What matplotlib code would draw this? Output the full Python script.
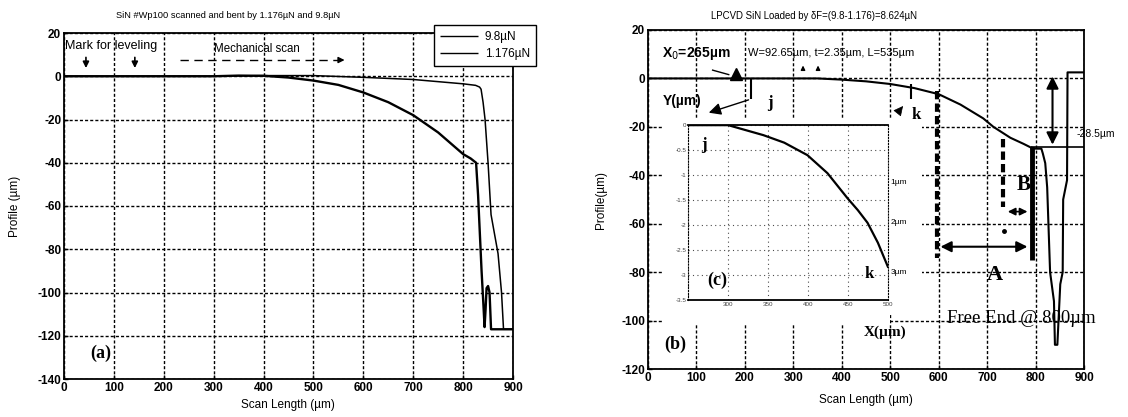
import matplotlib.pyplot as plt
from matplotlib.patches import Rectangle

plt.rcParams['font.family'] = ['Liberation Sans', 'DejaVu Sans']
plt.rcParams['axes.unicode_minus'] = False
plt.rcParams['lines.solid_capstyle'] = 'butt'

# (a) profiles
a_98_x = [0, 100, 200, 300, 350, 400, 450, 500, 550, 600, 650, 700, 750, 780, 800, 815, 826,
          830, 834, 837, 841, 843, 845, 847, 850, 853, 856, 900]
a_98_y = [0, 0, 0, 0, 0.3, 0.2, -0.6, -2, -4, -7.5, -12, -18, -26, -32, -36, -38, -40,
          -55, -75, -90, -107, -116, -108, -98, -97, -100, -117, -117]
a_1176_x = [0, 300, 400, 500, 600, 700, 750, 800, 825, 833, 836, 840, 844, 850, 856, 870, 877, 881, 900]
a_1176_y = [0, 0, 0.3, 0.3, -0.5, -1.5, -2.5, -3.5, -4.2, -5, -6, -12, -20, -40, -64, -82, -100, -117, -117]
a_legend = ['9.8µN', '1.176µN']

# (b) profile under the load difference
b_x = [0, 100, 200, 300, 350, 400, 450, 500, 550, 600, 645, 692, 713, 748, 775, 790, 800,
       812, 815, 820, 824, 830, 838, 840, 845, 851, 856, 857, 865, 866, 900]
b_y = [0, 0, 0, 0, 0, -0.5, -1.2, -2.3, -4, -6.5, -10.8, -16.5, -20, -24.5, -27, -28.5, -29,
       -29, -31, -35, -45, -80, -92, -110, -110, -85, -80, -50, -42, 2.5, 2.5]
b_free_end = 792
b_deflection = -28.5

# (c) inset, j-k section
c_x = [250, 300, 344, 370, 399, 424, 449, 462, 474, 487, 500]
c_y = [0, 0, -0.2, -0.35, -0.6, -0.96, -1.46, -1.7, -1.95, -2.35, -2.85]
c_xticks = [250, 300, 350, 400, 450, 500]
c_yticks = [0, -0.5, -1, -1.5, -2, -2.5, -3, -3.5]

W, H = 1128, 417
fig = plt.figure(figsize=(W / 100, H / 100), dpi=100)


def box(l, t, r, b):
    return [l / W, 1 - b / H, (r - l) / W, (b - t) / H]


def style(ax, ylo, yhi):
    ax.set_xlim(0, 900)
    ax.set_xticks(range(0, 901, 100))
    ax.set_ylim(ylo, yhi)
    ax.set_yticks(range(ylo, yhi + 1, 20))
    ax.grid(True, color='k', linestyle=(0, (2.2, 1.5)), linewidth=1.0)
    ax.set_axisbelow(True)
    ax.tick_params(direction='in', length=3, width=1, labelsize=8.5, pad=2)
    for t in ax.get_xticklabels() + ax.get_yticklabels():
        t.set_fontweight('bold')
    for s in ax.spines.values():
        s.set_linewidth(1.3)


serif = ['Liberation Serif', 'DejaVu Serif']

# ---------------- panel (a)
ax1 = fig.add_axes(box(64, 33, 513, 379))
style(ax1, -140, 20)
l1, = ax1.plot(a_98_x, a_98_y, color='k', lw=1.7, zorder=2)
l2, = ax1.plot(a_1176_x, a_1176_y, color='k', lw=1.1, zorder=2)
leg = ax1.legend([l1, l2], a_legend, loc='upper right', bbox_to_anchor=(536 / W, 1 - 25 / H),
                 bbox_transform=fig.transFigure, fancybox=False, edgecolor='k', framealpha=1,
                 fontsize=8.5, handlelength=3.2, borderpad=0.5, labelspacing=0.45,
                 handletextpad=0.6, borderaxespad=0)
leg.get_frame().set_linewidth(1)
for ln in leg.get_lines():
    ln.set_linewidth(1)

ax1.text(2, 14, 'Mark for leveling', fontsize=9, ha='left', va='center')
for xm in (44, 142):
    ax1.annotate('', xy=(xm, 2.5), xytext=(xm, 10),
                 arrowprops=dict(arrowstyle='-|>', color='k', lw=1.2, mutation_scale=9))
ax1.text(300, 12.5, 'Mechanical scan', fontsize=8.3, ha='left', va='center')
ax1.plot([233, 550], [7.5, 7.5], color='k', lw=1, linestyle=(0, (6, 4)))
ax1.annotate('', xy=(568, 7.5), xytext=(545, 7.5),
             arrowprops=dict(arrowstyle='-|>', color='k', lw=1, mutation_scale=9))
ax1.text(73, -128, '(a)', fontsize=13, fontweight='bold', family=serif, ha='center', va='center')

fig.text(228 / W, 1 - 16 / H, 'SiN #Wp100 scanned and bent by 1.176µN and 9.8µN',
         fontsize=6.7, ha='center', va='center')
fig.text(288 / W, 1 - 405 / H, 'Scan Length (µm)', fontsize=8.5, ha='center', va='center')
fig.text(15 / W, 1 - 206 / H, 'Profile (µm)', fontsize=8.5, ha='center', va='center', rotation=90)

# ---------------- panel (b)
ax2 = fig.add_axes(box(648, 30, 1084, 369))
style(ax2, -120, 20)
ax2.add_patch(Rectangle((30, -97), 535, 80.5, facecolor='white', edgecolor='none', zorder=1))
ax2.add_patch(Rectangle((30, -101.5), 470, 5, facecolor='white', edgecolor='none', zorder=1))
ax2.plot(b_x, b_y, color='k', lw=1.5, zorder=2)
ax2.plot([b_free_end - 2, 900], [b_deflection, b_deflection], color='k', lw=1.2, zorder=2)
ax2.plot([b_free_end, b_free_end], [b_deflection, -75], color='k', lw=3.5, zorder=2)
ax2.plot([597, 597], [-5, -74], color='k', lw=3, linestyle=(0, (2, 1)), zorder=2)
ax2.plot([732, 732], [-25, -53], color='k', lw=3, linestyle=(0, (2, 1)), zorder=2)
ax2.plot([735], [-63], marker='o', ms=2.5, color='k')
ax2.plot([543, 543], [-2.5, -8.5], color='k', lw=1.5)
ax2.plot([213, 213], [0, -8.5], color='k', lw=1.5)

ax2.annotate('', xy=(835, 2), xytext=(835, b_deflection),
             arrowprops=dict(arrowstyle='<|-|>', color='k', lw=1.5, mutation_scale=18))
ax2.annotate('', xy=(598, -69.5), xytext=(789, -69.5),
             arrowprops=dict(arrowstyle='<|-|>', color='k', lw=1.5, mutation_scale=16))
ax2.annotate('', xy=(737, -55), xytext=(789, -55),
             arrowprops=dict(arrowstyle='<|-|>', color='k', lw=1.2, mutation_scale=11))
ax2.text(716, -81, 'A', fontsize=16, fontweight='bold', family=serif, ha='center', va='center')
ax2.text(775, -44, 'B', fontsize=15, fontweight='bold', family=serif, ha='center', va='center')
ax2.text(885, -23, '-28.5µm', fontsize=7.5, ha='left', va='center')
ax2.text(618, -99, 'Free End @ 800µm', fontsize=13.5, family=serif, ha='left', va='center')
ax2.text(490, -105, 'X(µm)', fontsize=11, fontweight='bold', family=serif, ha='center', va='center')
ax2.text(56, -110, '(b)', fontsize=13, fontweight='bold', family=serif, ha='center', va='center')

ax2.text(100, 10.5, 'X$_0$=265µm', fontsize=10, fontweight='bold', ha='center', va='center')
ax2.plot([132, 168], [3.5, 1.5], color='k', lw=1)
ax2.plot([182], [1.8], marker='^', ms=9, color='k')
ax2.text(207, 10.5, 'W=92.65µm, t=2.35µm, L=535µm', fontsize=8, ha='left', va='center')
for xm in (320, 351):
    ax2.annotate('', xy=(xm, 6.5), xytext=(xm, 2.5),
                 arrowprops=dict(arrowstyle='-|>', color='k', lw=1, mutation_scale=6))
ax2.text(70, -9.5, 'Y(µm)', fontsize=10, fontweight='bold', ha='center', va='center')
ax2.annotate('', xy=(120, -14.5), xytext=(213, -8.5),
             arrowprops=dict(arrowstyle='-|>', color='k', lw=1, mutation_scale=18))
ax2.text(252, -10, 'j', fontsize=12, fontweight='bold', family=serif, ha='center', va='center')
ax2.text(545, -15, 'k', fontsize=12, fontweight='bold', family=serif, ha='left', va='center')
ax2.annotate('', xy=(530, -10.5), xytext=(512, -15),
             arrowprops=dict(arrowstyle='-|>', color='k', lw=0.5, mutation_scale=15))

fig.text(814 / W, 1 - 16 / H, 'LPCVD SiN Loaded by δF=(9.8-1.176)=8.624µN',
         fontsize=6.9, ha='center', va='center')
fig.text(866 / W, 1 - 400 / H, 'Scan Length (µm)', fontsize=8.5, ha='center', va='center')
fig.text(601 / W, 1 - 200 / H, 'Profile(µm)', fontsize=8.5, ha='center', va='center', rotation=90)

# ---------------- inset (c)
ins = ax2.inset_axes([83, -91.6, 413, 72.3], transform=ax2.transData)
ins.set_facecolor('white')
ins.plot(c_x, c_y, color='k', lw=1.6)
ins.set_xlim(250, 500)
ins.set_ylim(-3.5, 0)
ins.set_xticks(c_xticks)
ins.set_xticklabels([''] + [str(v) for v in c_xticks[1:]])
ins.set_yticks(c_yticks)
ins.set_yticklabels([f'{v:g}' for v in c_yticks])
ins.tick_params(labelsize=4.5, length=0, pad=1.5, colors='0.25')
ins.grid(True, color='0.3', linestyle=(0, (1, 3)), linewidth=0.8)
for side in ('top', 'bottom'):
    ins.spines[side].set_linewidth(1.3)
for side in ('left', 'right'):
    ins.spines[side].set_linestyle(':')
    ins.spines[side].set_linewidth(0.8)
ins.text(270, -0.4, 'j', fontsize=12, fontweight='bold', family=serif, ha='center', va='center')
ins.text(476, -2.98, 'k', fontsize=12, fontweight='bold', family=serif, ha='center', va='center')
ins.text(286, -3.1, '(c)', fontsize=13, fontweight='bold', family=serif, ha='center', va='center')
for lab, yv in (('1µm', -1.15), ('2µm', -1.95), ('3µm', -2.95)):
    ins.text(503, yv, lab, fontsize=6, ha='left', va='center', clip_on=False)

fig.savefig('out.png', dpi=100, facecolor='white')
